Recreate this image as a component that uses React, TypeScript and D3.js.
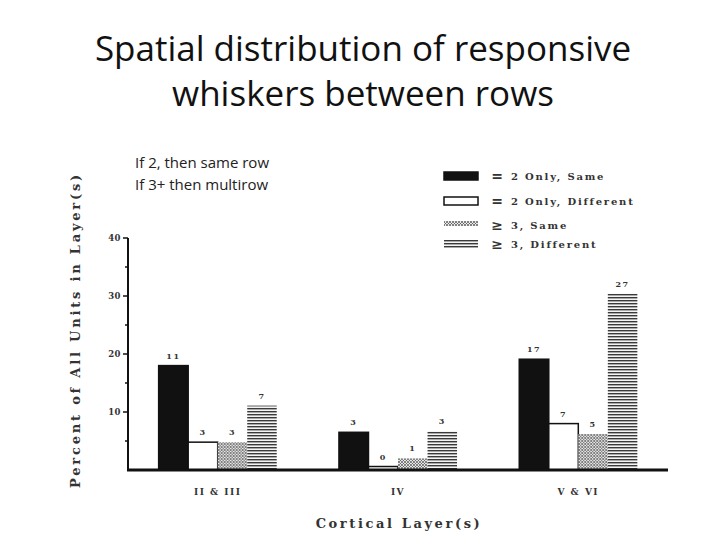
import React from 'react';
import * as d3 from 'd3';

const groups = ['II & III', 'IV', 'V & VI'];
const seriesKeys = ['sameTwo', 'diffTwo', 'sameThree', 'diffThree'];
const legendSymbols = ['=', '=', '≥', '≥'];
const legendLabels = ['2 Only, Same', '2 Only, Different', '3, Same', '3, Different'];
// percent of all units in layer, per group
const sameTwo = [18, 6.5, 19.1];
const diffTwo = [4.8, 0.6, 8];
const sameThree = [4.8, 2, 6.2];
const diffThree = [11.1, 6.7, 30.4];
// unit counts written over each bar
const countsSameTwo = [11, 3, 17];
const countsDiffTwo = [3, 0, 7];
const countsSameThree = [3, 1, 5];
const countsDiffThree = [7, 3, 27];
const yTicks = [10, 20, 30, 40];
const yMinorTicks = [5, 15, 25, 35];

const values = [sameTwo, diffTwo, sameThree, diffThree];
const counts = [countsSameTwo, countsDiffTwo, countsSameThree, countsDiffThree];
const fills = ['#111', '#fff', 'url(#hatch)', 'url(#lines)'];

const width = 728;
const height = 546;
const margin = { top: 238, right: 60, bottom: 76, left: 128 };
const chartFont = '"DejaVu Serif", serif';
const slideFont = '"Open Sans", sans-serif';

const App = () => {
  const x0 = d3
    .scaleBand<string>()
    .domain(groups)
    .range([margin.left, width - margin.right])
    .paddingInner(0.345)
    .paddingOuter(0.17);
  const x1 = d3.scaleBand<string>().domain(seriesKeys).range([0, x0.bandwidth()]);
  const y = d3
    .scaleLinear()
    .domain([0, 40])
    .range([height - margin.bottom, margin.top]);
  const base = y(0);

  return (
    <svg width={width} height={height} style={{ display: 'block', position: 'absolute', left: 0, top: 0 }}>
      <defs>
        <pattern id='lines' width={4} height={3} patternUnits='userSpaceOnUse'>
          <rect width={4} height={3} fill='#f4f4f4' />
          <rect y={0} width={4} height={1.4} fill='#3a3a3a' />
        </pattern>
        <pattern id='hatch' width={3} height={3} patternUnits='userSpaceOnUse'>
          <rect width={3} height={3} fill='#e8e8e8' />
          <path d='M0,3 L3,0 M0,0 L3,3' stroke='#555' strokeWidth={0.7} />
        </pattern>
      </defs>
      <rect width={width} height={height} fill='#fff' />

      <text x={363} y={61} textAnchor='middle' fontFamily={slideFont} fontSize={35} fill='#111'>
        Spatial distribution of responsive
      </text>
      <text x={363} y={106} textAnchor='middle' fontFamily={slideFont} fontSize={35} fill='#111'>
        whiskers between rows
      </text>

      <text x={135} y={168} fontFamily={slideFont} fontSize={15} fill='#222'>
        If 2, then same row
      </text>
      <text x={135} y={190} fontFamily={slideFont} fontSize={15} fill='#222'>
        If 3+ then multirow
      </text>

      {/* legend */}
      {legendLabels.map((label, i) => {
        const ly = [176, 201, 225, 244][i];
        return (
          <g key={label}>
            <rect
              x={444}
              y={ly - 4}
              width={34}
              height={i === 2 ? 5 : 8}
              fill={fills[i]}
              stroke={i < 2 ? '#111' : 'none'}
              strokeWidth={1.5}
            />
            <text x={497} y={ly + 5} textAnchor='middle' fontFamily={chartFont} fontWeight='bold' fontSize={14} fill='#333'>
              {legendSymbols[i]}
            </text>
            <text x={511} y={ly + 4} fontFamily={chartFont} fontWeight='bold' fontSize={10} letterSpacing={1.8} fill='#333'>
              {label}
            </text>
          </g>
        );
      })}

      {/* bars */}
      {groups.map((g, gi) => (
        <g key={g} transform={`translate(${x0(g)},0)`}>
          {seriesKeys.map((k, si) => {
            const v = values[si][gi];
            const bx = x1(k) || 0;
            return (
              <g key={k}>
                <rect
                  x={bx}
                  y={y(v)}
                  width={x1.bandwidth()}
                  height={base - y(v)}
                  fill={fills[si]}
                  stroke={si < 2 ? '#111' : 'none'}
                  strokeWidth={1.5}
                />
                <text
                  x={bx + x1.bandwidth() / 2}
                  y={y(v) - 7}
                  textAnchor='middle'
                  fontFamily={chartFont}
                  fontWeight='bold'
                  fontSize={8}
                  letterSpacing={1.5}
                  fill='#333'
                >
                  {counts[si][gi]}
                </text>
              </g>
            );
          })}
          <text
            x={x0.bandwidth() / 2}
            y={495}
            textAnchor='middle'
            fontFamily={chartFont}
            fontWeight='bold'
            fontSize={9}
            letterSpacing={1.5}
            fill='#333'
          >
            {g}
          </text>
        </g>
      ))}

      {/* axes */}
      <line x1={margin.left} x2={margin.left} y1={y(40)} y2={base} stroke='#111' strokeWidth={2} />
      <line x1={margin.left - 1} x2={width - margin.right} y1={base} y2={base} stroke='#111' strokeWidth={3} />
      {yTicks.map((t) => (
        <g key={t}>
          <line x1={margin.left - 5} x2={margin.left} y1={y(t)} y2={y(t)} stroke='#111' strokeWidth={1.5} />
          <text
            x={margin.left - 7}
            y={y(t) + 3}
            textAnchor='end'
            fontFamily={chartFont}
            fontWeight='bold'
            fontSize={8.5}
            letterSpacing={0.5}
            fill='#333'
          >
            {t}
          </text>
        </g>
      ))}
      {yMinorTicks.map((t) => (
        <line key={t} x1={margin.left - 3} x2={margin.left} y1={y(t)} y2={y(t)} stroke='#111' strokeWidth={1.5} />
      ))}

      <text
        x={399}
        y={528}
        textAnchor='middle'
        fontFamily={chartFont}
        fontWeight='bold'
        fontSize={13}
        letterSpacing={2.6}
        fill='#333'
      >
        Cortical Layer(s)
      </text>
      <text
        transform='translate(80,330) rotate(-90)'
        textAnchor='middle'
        fontFamily={chartFont}
        fontWeight='bold'
        fontSize={13}
        letterSpacing={2.8}
        fill='#333'
      >
        Percent of All Units in Layer(s)
      </text>
    </svg>
  );
};

export default App;
